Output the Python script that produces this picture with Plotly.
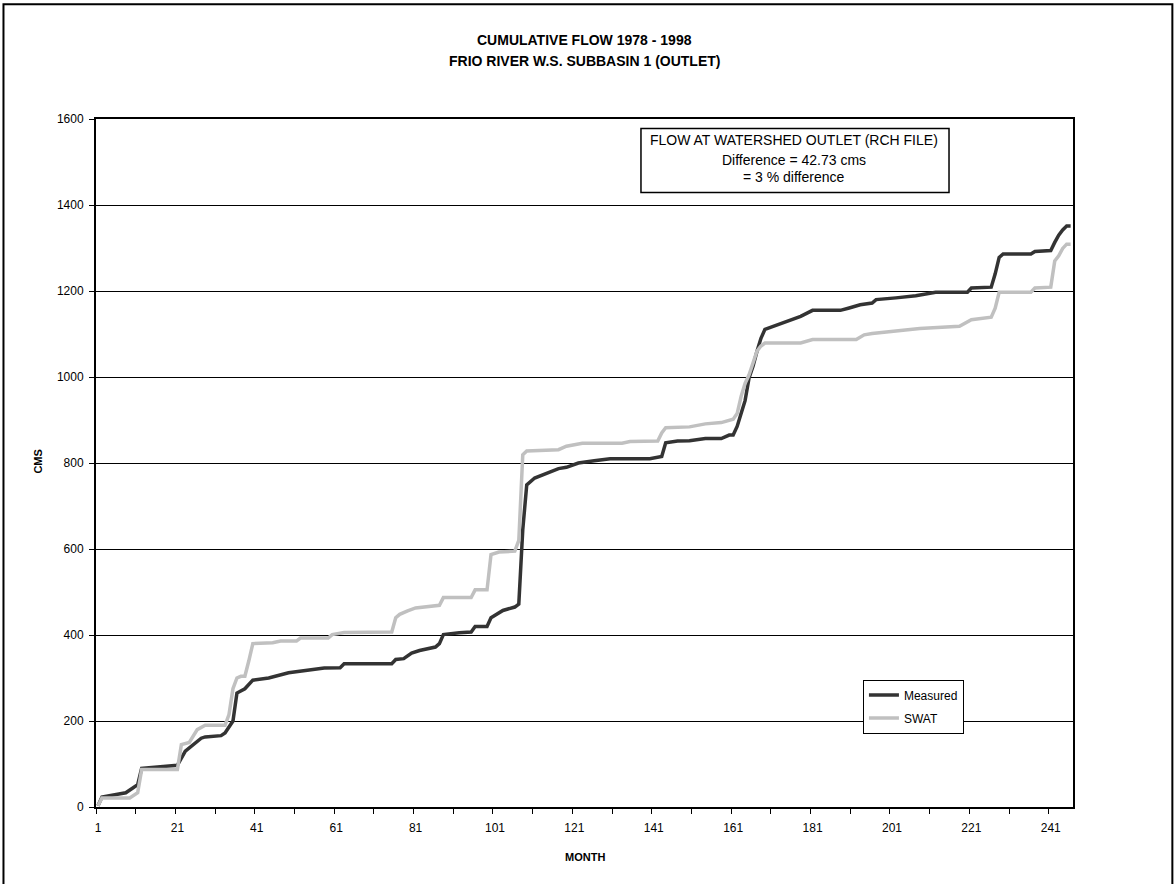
import plotly.graph_objects as go

# cumulative flow (month, cms)
measured_month = [1, 2, 8, 10, 11, 12, 21, 23, 24, 26, 27, 28, 32, 33, 34, 35, 36, 38, 40, 44,
                  49, 58, 62, 63, 75, 76, 78, 80, 82, 86, 87, 88, 92, 95, 96, 99, 100, 103, 106,
                  107, 108, 109, 111, 114, 117, 119, 122, 126, 130, 140, 143, 144, 147, 150, 154,
                  158, 160, 161, 162, 163, 164, 165, 166, 167, 168, 169, 171, 174, 178, 181, 188,
                  190, 193, 196, 197, 202, 207, 212, 220, 221, 226, 227, 228, 229, 236, 237, 241,
                  242, 243, 244, 245, 246]
measured_cms = [3, 23, 33, 45, 52, 90, 97, 130, 137, 153, 160, 163, 166, 172, 185, 200, 265, 275, 295, 300,
                312, 323, 324, 333, 333, 343, 345, 358, 364, 372, 380, 401, 405, 407, 420, 420, 440, 457, 465,
                472, 645, 749, 765, 776, 787, 790, 800, 805, 810, 810, 815, 847, 851, 852, 857,
                857, 865, 865, 885, 915, 945, 998, 1025, 1060, 1090, 1111, 1118, 1129, 1141, 1155, 1155,
                1160, 1168, 1172, 1180, 1184, 1189, 1197, 1197, 1207, 1209, 1240, 1278, 1286, 1286, 1292, 1294,
                1313, 1330, 1342, 1351, 1351]

swat_month = [1, 2, 9, 10, 11, 12, 21, 22, 24, 26, 27, 28, 33, 34, 35, 36, 37, 38, 39, 40,
              45, 47, 51, 52, 59, 60, 63, 75, 76, 77, 79, 81, 87, 88, 95, 96, 99, 100, 102,
              106, 107, 108, 109, 117, 119, 122, 123, 133, 135, 142, 143, 144, 150, 154, 158,
              161, 162, 163, 164, 165, 166, 167, 168, 169, 178, 181, 192, 194, 196, 202, 208,
              218, 221, 226, 227, 228, 236, 237, 241, 242, 243, 244, 245, 246]
swat_cms = [3, 21, 21, 28, 33, 87, 87, 145, 150, 180, 186, 190, 190, 215, 275, 300, 304, 304, 340, 380,
            382, 386, 386, 393, 393, 401, 406, 407, 440, 448, 456, 463, 469, 487, 487, 505, 505, 587, 593,
            595, 620, 819, 828, 831, 839, 843, 846, 846, 850, 851, 870, 882, 884, 891, 894,
            902, 915, 955, 985, 1005, 1031, 1060, 1072, 1079, 1079, 1087, 1087, 1098, 1101, 1107, 1113,
            1118, 1133, 1139, 1160, 1197, 1197, 1207, 1209, 1270, 1282, 1299, 1309, 1309]

label_months = [1, 21, 41, 61, 81, 101, 121, 141, 161, 181, 201, 221, 241]
y_ticks = [0, 200, 400, 600, 800, 1000, 1200, 1400, 1600]

font = "Arial, Liberation Sans, sans-serif"

fig = go.Figure()
fig.add_trace(go.Scatter(x=measured_month, y=measured_cms, mode="lines", name="Measured",
                         legendgroup="m", line=dict(color="#333333", width=3.5)))
fig.add_trace(go.Scatter(x=swat_month, y=swat_cms, mode="lines", name="SWAT",
                         legendgroup="s", line=dict(color="#c0c0c0", width=3.5)))

fig.update_xaxes(range=[0.5, 246.6], tickmode="array", tickvals=label_months,
                 ticktext=[str(m) for m in label_months], ticks="", showgrid=False,
                 zeroline=False, showline=True, linecolor="black", linewidth=2, mirror=True,
                 ticklabelstandoff=9, tickfont=dict(family=font, size=12, color="black"),
                 minor=dict(tickmode="array", tickvals=[0.5 + 10 * k for k in range(25)],
                            ticks="outside", ticklen=5, tickcolor="black", tickwidth=1))
fig.update_yaxes(range=[0, 1600], tickmode="array", tickvals=y_ticks, ticks="outside",
                 ticklen=5, tickcolor="black", showgrid=True, gridcolor="black", gridwidth=1,
                 zeroline=False, showline=True, linecolor="black", linewidth=2, mirror=True,
                 ticklabelstandoff=3, tickfont=dict(family=font, size=12, color="black"))

ann = [
    dict(text="<b>CUMULATIVE FLOW 1978 - 1998</b>", x=0.5, y=1.1155, size=14),
    dict(text="<b>FRIO RIVER W.S. SUBBASIN 1 (OUTLET)</b>", x=0.5, y=1.0836, size=14),
    dict(text="<b>MONTH</b>", x=0.5005, y=-0.072, size=11),
    dict(text="FLOW AT WATERSHED OUTLET (RCH FILE)", x=0.7149, y=0.9688, size=14),
    dict(text="Difference = 42.73 cms", x=0.7149, y=0.9411, size=14),
    dict(text="= 3 % difference", x=0.7149, y=0.9150, size=14),
]
for a in ann:
    fig.add_annotation(text=a["text"], x=a["x"], y=a["y"], xref="paper", yref="paper",
                       showarrow=False, xanchor="center", yanchor="middle",
                       font=dict(family=font, size=a["size"], color="black"))
fig.add_annotation(text="<b>CMS</b>", x=-0.0594, y=0.502, xref="paper", yref="paper",
                   showarrow=False, textangle=-90, xanchor="center", yanchor="middle",
                   font=dict(family=font, size=11, color="black"))

# text box and outer frame
fig.add_shape(type="rect", xref="paper", yref="paper", x0=0.5578, x1=0.8731, y0=0.8932, y1=0.9862,
              line=dict(color="black", width=1.5), fillcolor="rgba(0,0,0,0)", layer="above")
fig.add_shape(type="rect", xref="paper", yref="paper", x0=-0.0947, x1=1.1017, y0=-0.12, y1=1.1668,
              line=dict(color="black", width=2), fillcolor="rgba(0,0,0,0)", layer="above")

fig.update_layout(
    width=1176, height=884,
    margin=dict(l=96, r=103, t=119, b=77),
    paper_bgcolor="white", plot_bgcolor="white",
    showlegend=True,
    legend=dict(x=0.785, y=0.1853, xanchor="left", yanchor="top", bgcolor="white",
                bordercolor="black", borderwidth=1, traceorder="grouped", tracegroupgap=4,
                itemwidth=30, font=dict(family=font, size=12, color="black")),
)

# page body margin would shift the figure by 8px
fig.write_html("out.html", config={"displayModeBar": False},
               post_script="document.body.style.margin='0px';")
